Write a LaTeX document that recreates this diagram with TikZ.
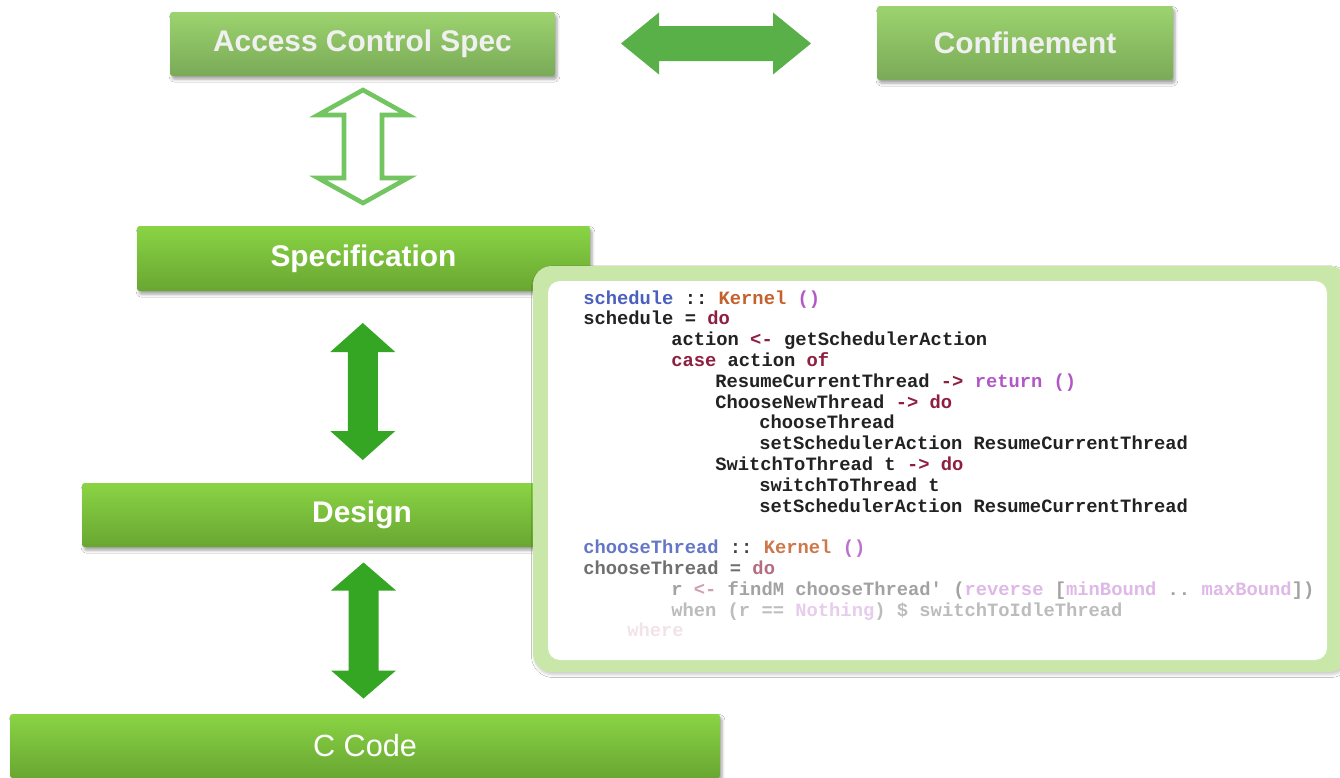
\documentclass[tikz,border=0pt]{standalone}
\usepackage{fontspec}
\setmainfont{Liberation Sans}
\setmonofont{Liberation Mono}
\usetikzlibrary{calc,shadows.blur}

\definecolor{boxtop}{HTML}{8AD444}
\definecolor{boxbot}{HTML}{68A632}
\definecolor{fadetop}{HTML}{9CD36E}
\definecolor{fadebot}{HTML}{7AAA58}
\definecolor{arrowgreen}{HTML}{35A624}
\definecolor{harrowgreen}{HTML}{59AF48}
\definecolor{outlinegreen}{HTML}{72C560}
\definecolor{panelgreen}{HTML}{C8E7A9}
\definecolor{kwred}{HTML}{8E1F40}
\definecolor{tyorange}{HTML}{C5612C}
\definecolor{fnblue}{HTML}{4A5FBE}
\definecolor{pupurple}{HTML}{B257C6}
\definecolor{codeink}{HTML}{222222}

\newcommand\kw[1]{\textcolor{kwred}{#1}}
\newcommand\ty[1]{\textcolor{tyorange}{#1}}
\newcommand\fn[1]{\textcolor{fnblue}{#1}}
\newcommand\pu[1]{\textcolor{pupurple}{#1}}

\tikzset{
  box/.style={rounded corners=2pt, top color=boxtop, bottom color=boxbot,
    text=white, inner sep=0pt,
    font=\bfseries\fontsize{22.4pt}{26pt}\selectfont,
    blur shadow={shadow xshift=1.5pt, shadow yshift=-2.5pt, shadow opacity=35}},
  fadedbox/.style={box, top color=fadetop, bottom color=fadebot, text=black!6},
  solidarrow/.style={fill=arrowgreen,
    blur shadow={shadow xshift=2pt, shadow yshift=-1.5pt, shadow opacity=30}},
  codeline/.style={anchor=base west, inner sep=0pt, text=codeink,
    font=\ttfamily\bfseries\fontsize{14.1pt}{15.6pt}\selectfont},
  % #1 half length, #2 head length, #3 shaft half width, #4 head half width
  pics/hdbl/.style n args={4}{code={
    \path[pic actions] (-#1,0) -- (-#1+#2,-#4) -- (-#1+#2,-#3) -- (#1-#2,-#3)
      -- (#1-#2,-#4) -- (#1,0) -- (#1-#2,#4) -- (#1-#2,#3) -- (-#1+#2,#3)
      -- (-#1+#2,#4) -- cycle;
  }},
  pics/vdbl/.style n args={4}{code={
    \path[pic actions] (0,-#1) -- (#4,-#1+#2) -- (#3,-#1+#2) -- (#3,#1-#2)
      -- (#4,#1-#2) -- (0,#1) -- (-#4,#1-#2) -- (-#3,#1-#2) -- (-#3,-#1+#2)
      -- (-#4,-#1+#2) -- cycle;
  }}
}

\begin{document}
\begin{tikzpicture}[x=0.75pt, y=-0.75pt]
  \useasboundingbox[fill=white] (0,0) rectangle (1340,778);

  % boxes
  \node (acs)  [fadedbox, minimum width=385*0.75pt, minimum height=64*0.75pt] at (362.5,44) {Access Control Spec};
  \node (conf) [fadedbox, minimum width=296*0.75pt, minimum height=74*0.75pt] at (1025,43) {Confinement};
  \node (spec) [box, minimum width=453*0.75pt, minimum height=65*0.75pt] at (363.5,258.5) {Specification};
  \node (design) [box, minimum width=560*0.75pt, minimum height=64*0.75pt] at (362,515) {Design};
  \node (ccode) [box, minimum width=710*0.75pt, minimum height=64*0.75pt,
    font=\fontsize{23pt}{26pt}\selectfont] at (365,746) {C Code};

  % arrows between the boxes
  \pic (a0) [fill=harrowgreen, blur shadow={shadow xshift=1.5pt, shadow yshift=-2pt, shadow opacity=25}]
    at ($(acs.east)!0.5!(conf.west)$) {hdbl={95}{38}{17.5}{31}};
  \pic (a1) [fill=white, draw=outlinegreen, line width=3.4pt, line join=miter,
    blur shadow={shadow xshift=2pt, shadow yshift=-1.5pt, shadow opacity=25}]
    at ($(acs.south)!0.5!(spec.north)+(0,-4.5)$) {vdbl={56.5}{25}{19}{45}};
  \pic (a2) [solidarrow] at ($(spec.south)!0.5!(design.north)+(0,4.5)$) {vdbl={68.5}{29}{15}{32.5}};
  \pic (a3) [solidarrow] at ($(design.south)!0.5!(ccode.north)$) {vdbl={68}{28}{15}{32.5}};

  % code panel
  \fill[panelgreen, rounded corners=14pt,
    blur shadow={shadow xshift=1pt, shadow yshift=-2pt, shadow opacity=20}]
    (533,266) rectangle (1348,672);
  \fill[white, rounded corners=9pt] (548,281) rectangle (1327,660);

  \foreach \k/\n/\o/\t in {
      0/0/1/{\fn{schedule} :: \ty{Kernel} \pu{()}},
      1/0/1/{schedule = \kw{do}},
      2/8/1/{action \kw{<-} getSchedulerAction},
      3/8/1/{\kw{case} action \kw{of}},
      4/12/1/{ResumeCurrentThread \kw{->} \pu{return ()}},
      5/12/1/{ChooseNewThread \kw{->} \kw{do}},
      6/16/1/{chooseThread},
      7/16/1/{setSchedulerAction ResumeCurrentThread},
      8/12/1/{SwitchToThread t \kw{->} \kw{do}},
      9/16/1/{switchToThread t},
      10/16/1/{setSchedulerAction ResumeCurrentThread},
      12/0/0.85/{\fn{chooseThread} :: \ty{Kernel} \pu{()}},
      13/0/0.65/{chooseThread = \kw{do}},
      14/8/0.42/{r \kw{<-} findM chooseThread' (\pu{reverse} [\pu{minBound} .. \pu{maxBound}])},
      15/8/0.3/{when (r == \pu{Nothing}) \$ switchToIdleThread},
      16/4/0.12/{\kw{where}}}
    \node (line\k) [codeline, text opacity=\o] at (583+11*\n, 304+20.8*\k) {\t};
\end{tikzpicture}
\end{document}
